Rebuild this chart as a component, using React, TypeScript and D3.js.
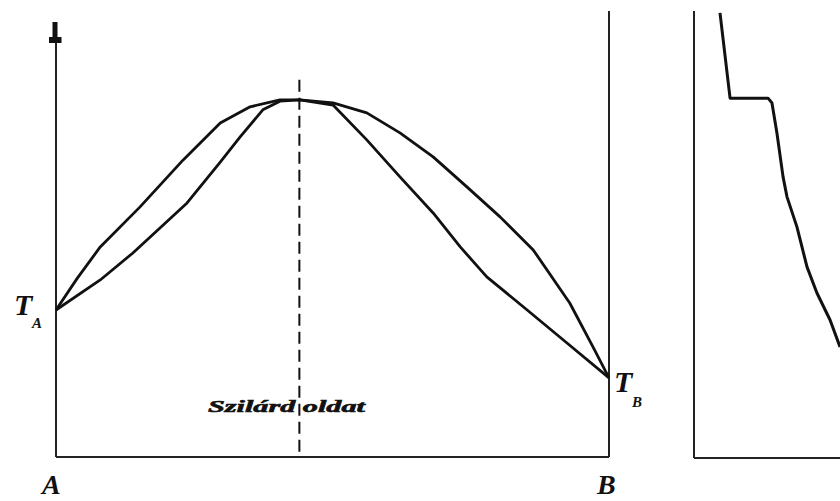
import React from "react";
import * as d3 from "d3";

// Phase diagram of a congruently melting solid solution (A–B) plus its cooling curve.
// Composition runs 0 (A) → 1 (B); temperature is in relative units (0–100).

const W = 840;
const H = 501;

// Liquidus (upper) branch: [composition, temperature]
const liquidusComp = [0, 0.038, 0.08, 0.152, 0.23, 0.297, 0.351, 0.405, 0.441, 0.501, 0.562, 0.622, 0.682, 0.743, 0.803, 0.863, 0.929, 0.971, 1];
const liquidusTemp = [33.8, 41.0, 48.3, 57.5, 68.3, 76.8, 80.5, 82.1, 82.1, 81.4, 79.1, 74.5, 69.0, 62.1, 55.2, 47.6, 35.4, 25.3, 18.2];

// Solidus (lower) branch
const solidusComp = [0, 0.08, 0.139, 0.237, 0.297, 0.333, 0.374, 0.405, 0.441, 0.501, 0.562, 0.622, 0.682, 0.731, 0.779, 0.852, 0.924, 1];
const solidusTemp = [33.8, 40.7, 46.9, 58.4, 67.8, 73.6, 79.8, 81.8, 82.1, 80.9, 72.9, 64.4, 56.1, 48.3, 41.4, 33.8, 26.2, 18.2];

// Composition of the maximum (congruent melting point)
const maxComp = 0.441;
const dashTopTemp = 86.7;

// Cooling curve at the maximum composition: [time, temperature]
const coolTime = [1.78, 2.47, 5.07, 5.34, 5.68, 6.1, 6.37, 7.05, 7.74, 8.42, 9.32, 10];
const coolTemp = [102.1, 82.5, 82.5, 81.4, 74.5, 64.4, 59.8, 52.9, 43.7, 37.7, 31.5, 25.3];

// Labels
const endLabels = ["A", "B"];
const tempLabels = [
  { main: "T", sub: "A" },
  { main: "T", sub: "B" },
];
const regionLabel = "Szilárd oldat";

export default function App() {
  const x = d3.scaleLinear().domain([0, 1]).range([56, 609]);
  const y = d3.scaleLinear().domain([0, 100]).range([457, 22]);
  const t = d3.scaleLinear().domain([0, 10]).range([694, 840]);

  const line = d3
    .line<[number, number]>()
    .x((d) => x(d[0]))
    .y((d) => y(d[1]))
    .curve(d3.curveLinear);

  const liq: [number, number][] = liquidusComp.map((c, i) => [c, liquidusTemp[i]]);
  const sol: [number, number][] = solidusComp.map((c, i) => [c, solidusTemp[i]]);
  const cool: [number, number][] = coolTime.map((tt, i) => [tt, coolTemp[i]]);

  const coolLine = d3
    .line<[number, number]>()
    .x((d) => t(d[0]))
    .y((d) => y(d[1]));

  const italic = {
    fontFamily: "'Liberation Serif', 'DejaVu Serif', serif",
    fontStyle: "italic",
    fontWeight: 700,
    fill: "#111",
  } as const;

  const yA = y(liquidusTemp[0]);
  const yB = y(liquidusTemp[liquidusTemp.length - 1]);

  return (
    <svg
      width={W}
      height={H}
      style={{ position: "absolute", left: 0, top: 0, background: "#fff" }}
    >
      <rect width={W} height={H} fill="#fff" />

      {/* left panel frame */}
      <g stroke="#222" strokeWidth={2} fill="none">
        <line x1={x(0)} y1={y(100)} x2={x(0)} y2={y(0)} />
        <line x1={x(0)} y1={y(0)} x2={x(1)} y2={y(0)} />
        <line x1={x(1)} y1={11} x2={x(1)} y2={y(0)} />
      </g>
      <path
        d={`M${x(0) - 3.5},${y(100)} H${x(0) + 1.5} V${y(100) + 15} H${x(0) + 5.5} V${y(100) + 21} H${x(0) - 7} V${y(100) + 15} H${x(0) - 3.5} Z`}
        fill="#111"
      />

      {/* vertical through the maximum */}
      <line
        x1={x(maxComp) - 0.5}
        x2={x(maxComp) - 0.5}
        y1={y(dashTopTemp)}
        y2={y(0)}
        stroke="#111"
        strokeWidth={2}
        strokeDasharray="12 6"
      />

      {/* liquidus and solidus */}
      <path d={line(liq) ?? ""} fill="none" stroke="#111" strokeWidth={2.8} strokeLinejoin="round" />
      <path d={line(sol) ?? ""} fill="none" stroke="#111" strokeWidth={2.8} strokeLinejoin="round" />

      {/* temperature labels */}
      <text x={14} y={yA + 5} fontSize={30} {...italic}>
        {tempLabels[0].main}
      </text>
      <text x={32} y={yA + 18} fontSize={15} {...italic}>
        {tempLabels[0].sub}
      </text>
      <text x={614} y={yB + 14} fontSize={30} {...italic}>
        {tempLabels[1].main}
      </text>
      <text x={632} y={yB + 29} fontSize={15} {...italic}>
        {tempLabels[1].sub}
      </text>

      {/* end-member labels */}
      <text x={x(0) - 14} y={494} fontSize={28} {...italic}>
        {endLabels[0]}
      </text>
      <text x={x(1) - 12} y={494} fontSize={28} {...italic}>
        {endLabels[1]}
      </text>

      {/* region label */}
      <text
        x={208}
        y={412}
        fontSize={17}
        textLength={157}
        lengthAdjust="spacingAndGlyphs"
        {...italic}
        fontWeight={900}
        stroke="#111"
        strokeWidth={0.6}
      >
        {regionLabel}
      </text>

      {/* cooling curve panel */}
      <g stroke="#222" strokeWidth={2} fill="none">
        <line x1={t(0)} y1={11} x2={t(0)} y2={458} />
        <line x1={t(0)} y1={458} x2={W} y2={458} />
      </g>
      <path d={coolLine(cool) ?? ""} fill="none" stroke="#111" strokeWidth={3} strokeLinejoin="round" />
    </svg>
  );
}
